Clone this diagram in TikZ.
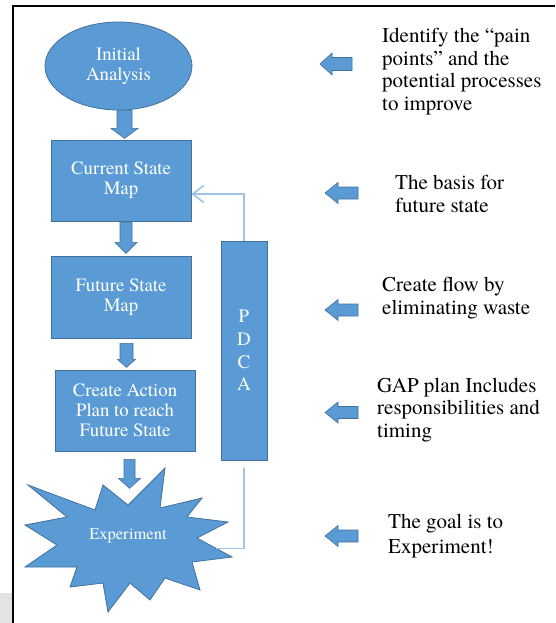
\documentclass[tikz,border=0pt]{standalone}
\usepackage{fontspec}
\setmainfont{texgyretermes}[Extension=.otf, UprightFont=*-regular, BoldFont=*-bold, ItalicFont=*-italic]
\usetikzlibrary{arrows.meta,calc,shapes.geometric}
\definecolor{boxblue}{HTML}{5B9BD5}
\definecolor{boxedge}{HTML}{41719C}
\definecolor{loopblue}{HTML}{9DC3E6}
\definecolor{sidegray}{HTML}{E3E3E3}
\tikzset{
  stepbox/.style={draw=boxedge, line width=0.8pt, fill=boxblue, text=white,
    align=center, inner sep=0pt, minimum width=140pt,
    font=\fontsize{18.8}{20}\selectfont},
  sidenote/.style={anchor=north west, align=left, inner sep=0pt,
    font=\fontsize{21}{22.7}\selectfont},
  blk/.style={draw=boxedge, line width=0.6pt, fill=boxblue},
  feedback/.style={draw=loopblue, line width=1.6pt},
  % block arrow pointing down: length / shaft half width / head half width / head length
  pics/downarrow/.style args={#1/#2/#3/#4}{code={
    \path[blk] (-#2,0) -- (#2,0) -- (#2,#1-#4) -- (#3,#1-#4) -- (0,#1)
      -- (-#3,#1-#4) -- (-#2,#1-#4) -- cycle;}},
  % block arrow pointing left, same parameters
  pics/leftarrow/.style args={#1/#2/#3/#4}{code={
    \path[blk] (0,-#2) -- (0,#2) -- (-#1+#4,#2) -- (-#1+#4,#3) -- (-#1,0)
      -- (-#1+#4,-#3) -- (-#1+#4,-#2) -- cycle;}}
}
\begin{document}
\begin{tikzpicture}[x=1pt,y=-1pt]
\useasboundingbox (0,0) rectangle (555,623);
\fill[white] (0,0) rectangle (555,623);
\fill[sidegray] (0,593) rectangle (11.9,623);
\draw[line width=2.2pt] (13,623) -- (13,6) -- (555,6);

% main flow
\node[stepbox, ellipse, minimum width=147pt, minimum height=88pt] (init) at (118.5,66) {Initial\\Analysis};
\node[stepbox, minimum height=81pt] (csm) at (121,180.5) {Current State\\Map};
\node[stepbox, minimum height=82pt] (fsm) at (121,297) {Future State\\Map};
\node[stepbox, minimum height=81pt] (cap) at (125,410.5) {Create Action\\Plan to reach\\Future State};
\node[stepbox, minimum width=46pt, minimum height=219pt,
  font=\fontsize{19}{22.7}\selectfont] (pdca) at (244,350.5) {P\\D\\C\\A};

% explosion shape
\path[blk, line width=0.8pt] (28,485) -- (95,510) -- (103,485) -- (128,505) -- (165,468)
  -- (160,508) -- (202,498) -- (187,517) -- (228,522) -- (197,538) coordinate (s10)
  -- (232,557) coordinate (s11) -- (192,562) -- (200,590) -- (165,578) -- (150,600)
  -- (130,583) -- (108,612) -- (103,583) -- (70,587) -- (77,567) -- (25,567)
  -- (57,545) -- (25,525) -- (67,517) -- cycle;
\node[text=white, inner sep=0pt, font=\fontsize{16.5}{18}\selectfont] (exp) at (128,536) {Experiment};

% block arrows between steps
\pic at ([xshift=6pt]init.south) {downarrow=28/7.5/13.5/10};
\pic at ([xshift=5pt,yshift=-1pt]csm.south) {downarrow=31/6/11/11};
\pic at ([xshift=5.5pt,yshift=-5pt]fsm.south) {downarrow=24/6.5/9/8};
\pic at ([xshift=4.5pt,yshift=-8pt]cap.south) {downarrow=29/5.5/11/10};

% PDCA loop lines
\draw[feedback, -{Straight Barb[length=11pt,width=17pt]}] (pdca.north) |- ([yshift=-13.5pt]csm.east);
\coordinate (hit) at ($(s10)!0.55!(s11)$);
\draw[feedback] ([yshift=-8pt]pdca.south) |- (hit);

% side notes
\pic at (352,64) {leftarrow=32/6.5/11/12};
\pic at (358,193) {leftarrow=33/6/10.5/13};
\pic at (358,310) {leftarrow=33/6/10.5/13};
\pic at (358,412.5) {leftarrow=33/6/10.5/13};
\pic at (358,536) {leftarrow=33/6/10.5/13};

\node[sidenote] (t1) at (382,28) {Identify the “pain\\points” and the\\potential processes\\to improve};
\node[sidenote] (t2) at (395,175) {The basis for\\future state};
\node[sidenote] (t3) at (382,277) {Create flow by\\eliminating waste};
\node[sidenote] (t4) at (377,377.5) {GAP plan Includes\\responsibilities and\\timing};
\node[sidenote, font=\fontsize{21}{24.5}\selectfont] (t5) at (388,514) {The goal is to\\Experiment!};
\end{tikzpicture}
\end{document}
